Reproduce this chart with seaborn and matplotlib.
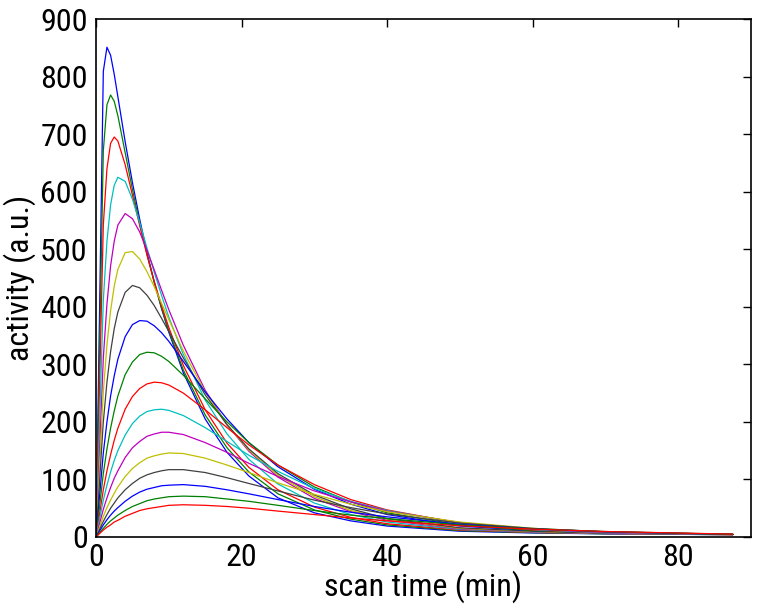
import numpy as np
import pandas as pd
import matplotlib
matplotlib.use("Agg")
import matplotlib.pyplot as plt
from matplotlib import font_manager
import seaborn as sns

# sampling times (min)
t = [0, 1, 1.5, 2, 2.5, 3, 4, 5, 6, 7, 8, 9, 10, 12, 15, 18, 21, 25, 30, 35, 40, 50, 60, 70, 87.5]

# activity curves (a.u.), fastest/highest first
c01 = [0, 809, 851, 837, 804, 765, 687, 616, 552, 494, 443, 397, 356, 285, 205, 147, 106, 68, 42, 28, 19, 10, 7, 5.5, 4]
c02 = [0, 671, 751, 768, 757, 732, 668, 604, 545, 491, 442, 398, 358, 290, 212, 155, 113, 75, 47, 31, 21, 11, 7.5, 5.5, 4]
c03 = [0, 542, 640, 684, 695, 688, 647, 594, 541, 490, 444, 402, 364, 298, 221, 163, 121, 82, 52, 34, 23, 12, 8, 6, 4]
c04 = [0, 411, 514, 577, 611, 625, 618, 587, 546, 502, 460, 420, 382, 317, 238, 179, 135, 92, 59, 39, 26, 13, 8.5, 6, 4.5]
c05 = [0, 311, 405, 471, 514, 542, 562, 553, 530, 498, 464, 429, 395, 333, 255, 195, 149, 104, 67, 44, 29, 14, 9, 6, 4.5]
c06 = [0, 252, 334, 393, 436, 465, 494, 496, 483, 461, 435, 406, 378, 323, 252, 195, 151, 107, 70, 46, 31, 15, 9.5, 6.5, 4.5]
c07 = [0, 200, 269, 322, 362, 391, 425, 437, 433, 420, 402, 380, 357, 311, 247, 195, 153, 110, 73, 49, 32, 16, 10, 7, 4.5]
c08 = [0, 146, 200, 245, 280, 309, 348, 369, 376, 375, 367, 355, 340, 305, 252, 205, 164, 122, 83, 57, 39, 19, 11, 7, 4.5]
c09 = [0, 110, 153, 189, 219, 245, 282, 304, 317, 321, 320, 314, 305, 281, 240, 200, 164, 125, 87, 61, 42, 21, 11, 7, 4.5]
c10 = [0, 82, 115, 143, 168, 189, 222, 244, 258, 266, 269, 268, 264, 250, 221, 190, 160, 125, 91, 65, 47, 24, 12, 7, 4.5]
c11 = [0, 64, 90, 113, 133, 150, 177, 197, 210, 218, 221, 222, 220, 211, 190, 166, 142, 114, 84, 62, 46, 24, 13, 7, 4.5]
c12 = [0, 48, 68, 86, 102, 115, 138, 155, 166, 175, 179, 182, 182, 178, 164, 147, 128, 105, 80, 61, 45, 25, 14, 7.5, 4.5]
c13 = [0, 36, 51, 64, 76, 87, 105, 119, 129, 137, 141, 144, 146, 145, 137, 125, 112, 94, 74, 57, 44, 26, 15, 8.5, 4.5]
c14 = [0, 27, 39, 50, 59, 68, 82, 93, 102, 108, 112, 115, 117, 117, 112, 103, 93, 80, 64, 51, 40, 24, 15, 9, 4.5]
c15 = [0, 21, 30, 38, 45, 51, 62, 71, 78, 83, 86, 89, 90, 91, 88, 82, 75, 65, 53, 43, 35, 22, 14, 9, 4.5]
c16 = [0, 15, 22, 28, 33, 38, 46, 53, 58, 63, 66, 68, 70, 71, 70, 66, 62, 55, 46, 38, 32, 21, 14, 9.5, 4.6]
c17 = [0, 12, 17, 21, 26, 29, 36, 41, 46, 49, 51, 53, 55, 56, 55, 53, 50, 45, 39, 33, 28, 19.5, 13.7, 9.5, 5]

curves = [c01, c02, c03, c04, c05, c06, c07, c08, c09, c10, c11, c12, c13, c14, c15, c16, c17]

# matlab-ish colour cycle b g r c m y k
cycle = [(0, 0, 1), (0, 0.5, 0), (1, 0, 0), (0, 0.75, 0.75),
         (0.75, 0, 0.75), (0.75, 0.75, 0), (0.25, 0.25, 0.25)]

rows = []
for i, c in enumerate(curves):
    for tt, v in zip(t, c):
        rows.append((i, tt, v))
df = pd.DataFrame(rows, columns=['curve', 'time', 'activity'])

sns.set_style('white')
installed = {f.name for f in font_manager.fontManager.ttflist}
narrow_fams = ['Liberation Sans Narrow', 'Roboto Condensed', 'Arial Narrow', 'DejaVu Sans Condensed']
found = [f for f in narrow_fams if f in installed]
if found:
    fams = [found[0], 'Liberation Sans', 'DejaVu Sans']
    fs = 23 if found[0] != 'DejaVu Sans Condensed' else 20
else:
    fams = ['Liberation Sans', 'DejaVu Sans']
    fs = 21
plt.rcParams['font.family'] = fams
plt.rcParams['text.color'] = 'black'
plt.rcParams['axes.labelcolor'] = 'black'
plt.rcParams['xtick.color'] = 'black'
plt.rcParams['ytick.color'] = 'black'

fig = plt.figure(figsize=(7.64, 6.13), dpi=100)
ax = fig.add_axes([0.1257, 0.124, 0.8573, 0.845])

pal = [cycle[i % 7] for i in range(len(curves))]
sns.lineplot(data=df, x='time', y='activity', hue='curve', palette=pal,
             linewidth=0.9, legend=False, ax=ax)

ax.set_xlim(0, 90)
ax.set_ylim(0, 900)
ax.set_xticks([0, 20, 40, 60, 80])
ax.set_yticks(range(0, 901, 100))
ax.tick_params(direction='in', top=True, right=True, length=6, width=1,
               labelsize=fs, color='black', labelcolor='black')
ax.tick_params(axis='y', pad=6)
ax.tick_params(axis='x', pad=4)
for s in ax.spines.values():
    s.set_visible(True)
    s.set_color('black')
    s.set_linewidth(1.2)
ax.set_xlabel('scan time (min)', fontsize=fs, labelpad=-1)
ax.set_ylabel('activity (a.u.)', fontsize=fs, labelpad=3)

fig.savefig('out.png', dpi=100)
